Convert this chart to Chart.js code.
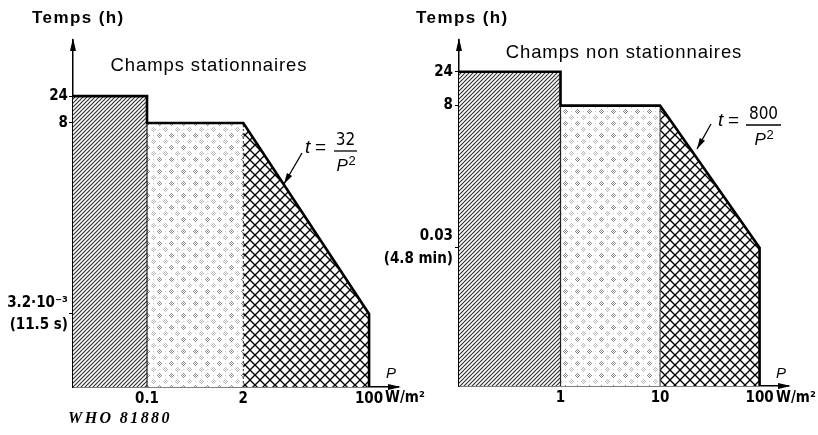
<!DOCTYPE html>
<html><head><meta charset="utf-8">
<script src="https://cdn.jsdelivr.net/npm/chart.js@4.4.0/dist/chart.umd.min.js"></script>
<style>
html,body{margin:0;padding:0;background:#fff;width:818px;height:435px;overflow:hidden}
canvas{position:absolute;top:0}
#c1{left:0}
#c2{left:370px}
</style></head><body>
<canvas id="c1" width="430" height="435"></canvas>
<canvas id="c2" width="448" height="435"></canvas>
<script>
// ---- Data: stationary fields (t = 32/P^2 between 2 and 100 W/m2) ----
const statBoundsP = [0.1, 2, 100];          // W/m2
const statLevelsT = [24, 8, 0.0032];        // h
const statXLabels = ['0.1', '2', '100'];
const statYTicks  = [24, 8, 0.0032];
const statYLabels = ['24', '8', ['3.2·10⁻³', '(11.5 s)']];

// ---- Data: non-stationary fields (t = 800/P^2 between 10 and 100 W/m2) ----
const nonBoundsP = [1, 10, 100];            // W/m2
const nonLevelsT = [24, 8, 0.08];           // h
const nonXLabels = ['1', '10', '100'];
const nonYTicks  = [24, 8, 0.08];
const nonYLabels = ['24', '8', ['0.03', '(4.8 min)']];

const NARROW = '"Liberation Sans Narrow", "DejaVu Sans Condensed", "Liberation Sans", Arial, sans-serif';
const SANS = '"Liberation Sans", Arial, sans-serif';

// ---- patterns ----
function tile(w, h, draw) {
  const c = document.createElement('canvas'); c.width = w; c.height = h;
  const g = c.getContext('2d'); g.fillStyle = '#fff'; g.fillRect(0, 0, w, h); draw(g);
  return document.createElement('canvas').getContext('2d').createPattern(c, 'repeat');
}
const hatch = tile(4, 4, g => {
  g.strokeStyle = '#2a2a2a'; g.lineWidth = 1.05;
  [-4, 0, 4].forEach(ox => {
    g.beginPath(); g.moveTo(ox - 1, 5); g.lineTo(ox + 5, -1); g.stroke();
  });
});
const dots = tile(12, 12, g => {
  const cl = (cx, cy, col) => {
    g.fillStyle = col;
    [[0,0],[2,0],[-2,0],[0,2],[0,-2],[1,1],[-1,-1],[1,-1],[-1,1]].forEach(([dx,dy]) => {
      g.fillRect(((cx+dx)%12+12)%12, ((cy+dy)%12+12)%12, 1, 1);
    });
  };
  cl(3, 3, '#8a8a8a'); cl(9, 9, '#b8b8b8');
  g.fillStyle = '#cfcfcf';
  g.fillRect(9, 3, 1, 1); g.fillRect(3, 9, 1, 1);
});
const cross = tile(10, 10, g => {
  g.strokeStyle = '#000'; g.lineWidth = 1.3;
  g.beginPath(); g.moveTo(-1, -1); g.lineTo(11, 11); g.stroke();
  g.beginPath(); g.moveTo(-1, 11); g.lineTo(11, -1); g.stroke();
});

// ---- helpers for annotations ----
function txt(ctx, s, x, y, font, align, ls) {
  ctx.save(); ctx.font = font; ctx.fillStyle = '#000'; ctx.textAlign = align || 'left';
  ctx.textBaseline = 'middle'; ctx.letterSpacing = (ls || 0) + 'px'; ctx.fillText(s, x, y); ctx.restore();
}
function tri(ctx, pts) {
  ctx.save(); ctx.fillStyle = '#000'; ctx.beginPath(); ctx.moveTo(pts[0], pts[1]);
  ctx.lineTo(pts[2], pts[3]); ctx.lineTo(pts[4], pts[5]); ctx.closePath(); ctx.fill(); ctx.restore();
}
function pointer(ctx, x1, y1, x2, y2) {
  ctx.save(); ctx.strokeStyle = '#000'; ctx.lineWidth = 1.3;
  ctx.beginPath(); ctx.moveTo(x1, y1); ctx.lineTo(x2, y2); ctx.stroke();
  const a = Math.atan2(y2 - y1, x2 - x1), L = 11, W = 3;
  const bx = x2 - L * Math.cos(a), by = y2 - L * Math.sin(a);
  tri(ctx, [x2, y2, bx + W * Math.sin(a), by - W * Math.cos(a), bx - W * Math.sin(a), by + W * Math.cos(a)]);
  ctx.restore();
}
function formula(ctx, tx, ty, barL, barR, barY, num) {
  txt(ctx, 't', tx, ty, 'italic 19px ' + SANS, 'left');
  txt(ctx, '=', tx + 10, ty, '19px ' + SANS, 'left');
  ctx.save(); ctx.strokeStyle = '#000'; ctx.lineWidth = 1.3;
  ctx.beginPath(); ctx.moveTo(barL, barY); ctx.lineTo(barR, barY); ctx.stroke(); ctx.restore();
  const cx = (barL + barR) / 2;
  txt(ctx, num, cx, barY - 10, '17px ' + NARROW, 'center');
  txt(ctx, 'P', cx - 9, barY + 15, 'italic 17px ' + SANS, 'left');
  txt(ctx, '2', cx + 3, barY + 10, '13px ' + SANS, 'left');
}

function buildChart(el, offX, c) {
  const [p1, p2, p3] = c.bounds, [t1, t2, t3] = c.levels;
  const extra = {
    id: 'extra',
    afterDraw(chart) {
      const ctx = chart.ctx, a = chart.chartArea;
      ctx.save(); ctx.translate(-offX, 0);
      const ax = a.left + offX, ay = a.bottom, ar = a.right + offX;
      // axis arrows
      tri(ctx, [ax, a.top - 2, ax - 3, a.top + 11, ax + 3, a.top + 11]);
      tri(ctx, [ar + 3, ay, ar - 10, ay - 3, ar - 10, ay + 3]);
      c.draw(ctx, chart);
      ctx.restore();
    }
  };
  return new Chart(el, {
    type: 'line',
    data: {
      datasets: [
        { data: [{x: c.xMin, y: t1}, {x: p1, y: t1}, {x: p1, y: t2}, {x: p2, y: t2}, {x: p3, y: t3}, {x: p3, y: c.yMin}],
          borderColor: '#000', borderWidth: 2.6, fill: false, pointRadius: 0, order: 0, clip: 4 },
        { data: [{x: p1, y: c.yMin}, {x: p1, y: t2}], borderColor: '#222', borderWidth: 1.2, fill: false, pointRadius: 0, order: 1 },
        { data: [{x: p2, y: c.yMin}, {x: p2, y: t2}], borderColor: '#333', borderWidth: 1, borderDash: c.dash, fill: false, pointRadius: 0, order: 1 },
        { data: [{x: c.xMin, y: t1}, {x: p1, y: t1}], backgroundColor: hatch, fill: 'start', borderWidth: 0, pointRadius: 0, order: 2 },
        { data: [{x: p1, y: t2}, {x: p2, y: t2}], backgroundColor: dots, fill: 'start', borderWidth: 0, pointRadius: 0, order: 2 },
        { data: [{x: p2, y: t2}, {x: p3, y: t3}], backgroundColor: cross, fill: 'start', borderWidth: 0, pointRadius: 0, order: 2 }
      ]
    },
    options: {
      responsive: false, animation: false, events: [],
      layout: { padding: { top: 40, right: c.padRight, left: 0, bottom: 0 } },
      plugins: { legend: { display: false }, tooltip: { enabled: false } },
      scales: {
        x: {
          type: 'logarithmic', min: c.xMin, max: c.xMax,
          afterBuildTicks: s => { s.ticks = c.bounds.map(v => ({ value: v })); },
          afterFit: s => { s.height = c.xHeight; },
          ticks: { callback: (v, i) => c.xLabels[i], autoSkip: false, maxRotation: 0, padding: 3,
                   color: '#000', font: { family: NARROW, size: 15, weight: 'bold' } },
          grid: { display: false, drawTicks: false },
          border: { color: '#000', width: 1.5 }
        },
        y: {
          type: 'logarithmic', min: c.yMin, max: c.yMax,
          afterBuildTicks: s => { s.ticks = c.yTicks.map(v => ({ value: v })); },
          afterFit: s => { s.width = c.yWidth; },
          ticks: { callback: (v, i) => c.yLabels[i], autoSkip: false, padding: c.tickPad,
                   color: '#000', font: { family: NARROW, size: 15, weight: 'bold', lineHeight: 1.5 } },
          grid: { drawOnChartArea: false, tickLength: 4, color: '#000', lineWidth: 1 },
          border: { color: '#000', width: 1.5 }
        }
      }
    },
    plugins: [extra]
  });
}

buildChart(document.getElementById('c1'), 0, {
  bounds: statBoundsP, levels: statLevelsT, xLabels: statXLabels, yTicks: statYTicks, yLabels: statYLabels,
  xMin: 0.01, xMax: 246, yMin: 1.61e-4, yMax: 238.8,
  padRight: 32, xHeight: 48, yWidth: 73, tickPad: 1, dash: [2, 2],
  draw(ctx) {
    txt(ctx, 'Temps (h)', 32, 18, 'bold 17px ' + SANS, 'left', 1.4);
    txt(ctx, 'Champs stationnaires', 209, 66, '18.5px ' + SANS, 'center', 0.9);
    formula(ctx, 305, 148, 334, 357, 151, '32');
    pointer(ctx, 302, 153, 284, 184);
    txt(ctx, 'P', 386, 374, 'italic 15px ' + SANS, 'left');
    txt(ctx, 'W/m²', 385, 398, 'bold 15px ' + NARROW, 'left');
    txt(ctx, 'WHO 81880', 68, 419, 'bold italic 16px "Liberation Serif", serif', 'left', 2.4);
  }
});

buildChart(document.getElementById('c2'), 370, {
  bounds: nonBoundsP, levels: nonLevelsT, xLabels: nonXLabels, yTicks: nonYTicks, yLabels: nonYLabels,
  xMin: 0.0955, xMax: 193, yMin: 9.02e-4, yMax: 67.1,
  padRight: 30, xHeight: 49, yWidth: 89, tickPad: 2, dash: [],
  draw(ctx) {
    txt(ctx, 'Temps (h)', 416, 18, 'bold 17px ' + SANS, 'left', 1.4);
    txt(ctx, 'Champs non stationnaires', 624, 53, '18.5px ' + SANS, 'center', 0.9);
    formula(ctx, 718, 121, 746, 781, 125, '800');
    pointer(ctx, 711, 124, 697, 149);
    txt(ctx, 'P', 776, 374, 'italic 15px ' + SANS, 'left');
    txt(ctx, 'W/m²', 776, 398, 'bold 15px ' + NARROW, 'left');
  }
});
</script>
</body></html>
